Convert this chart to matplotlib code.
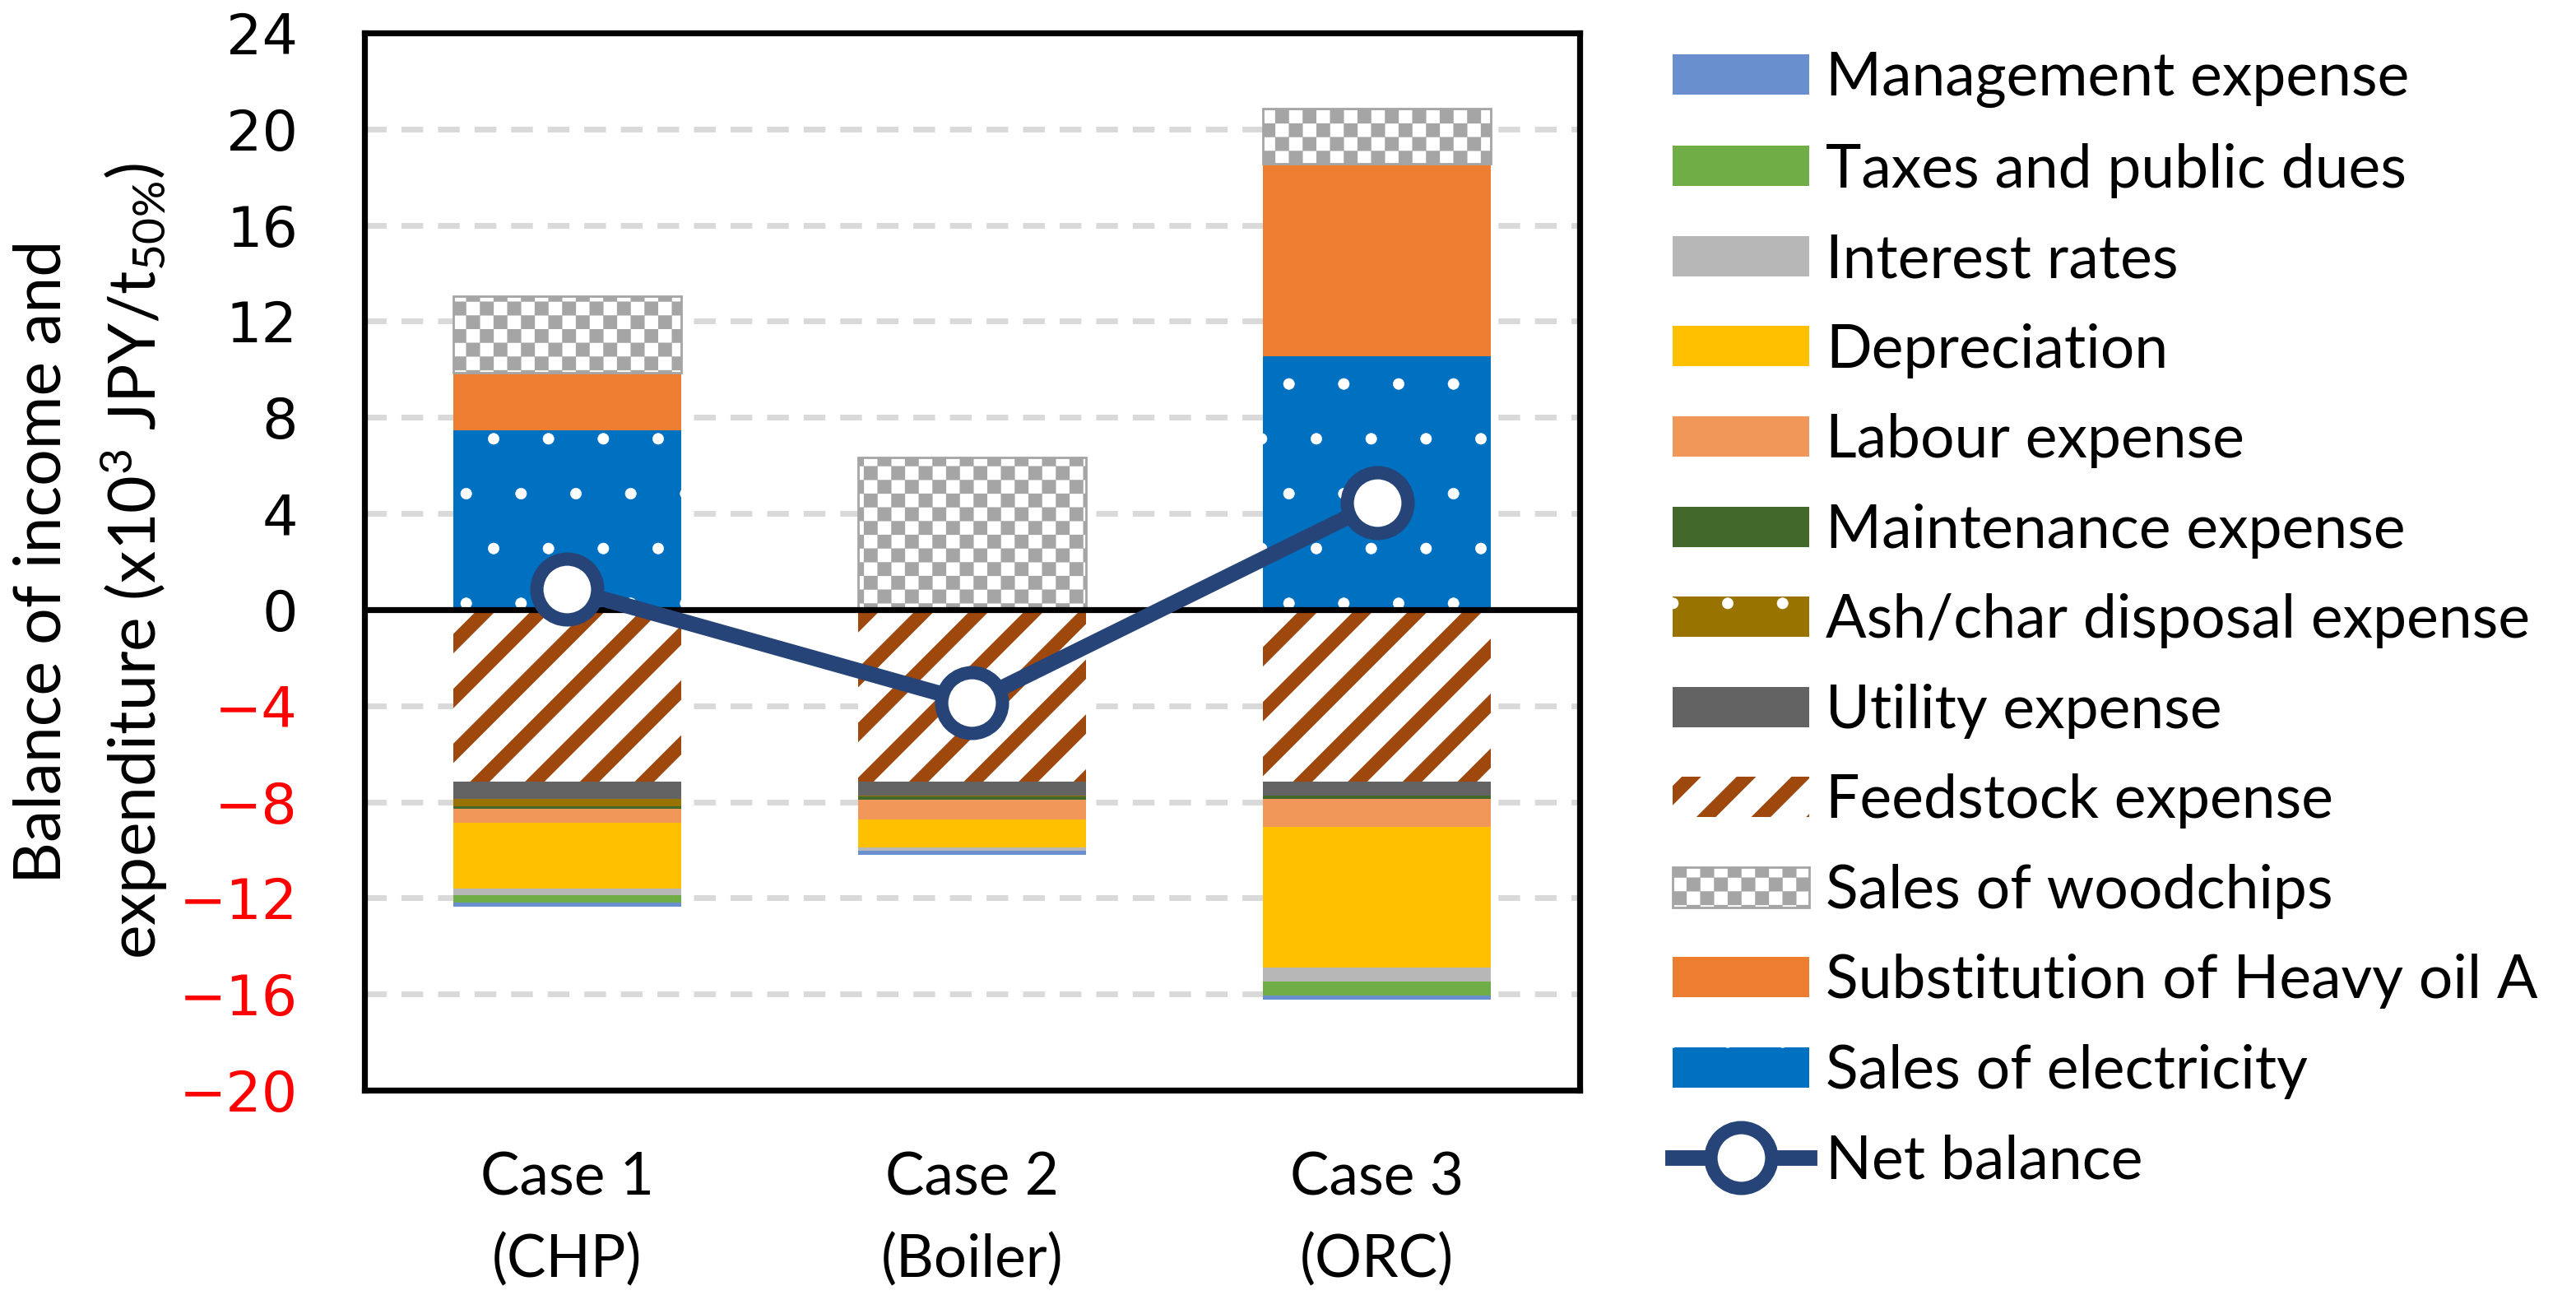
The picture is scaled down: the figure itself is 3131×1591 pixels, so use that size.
import warnings
import numpy as np
import matplotlib
matplotlib.use('Agg')
import matplotlib.pyplot as plt
from matplotlib import hatch as mhatch
from matplotlib.path import Path

warnings.filterwarnings('ignore')

##===========================================
# Data (x10^3 JPY/t50%)
##===========================================
cases = ['Case 1\n(CHP)', 'Case 2\n(Boiler)', 'Case 3\n(ORC)']

# income (positive)
electricity = [7.47, 0.0, 10.54]
heavy_oil = [2.39, 0.0, 8.00]
woodchips = [3.19, 6.34, 2.30]

# expenditure (negative, stacked downward from zero)
feedstock = [7.16, 7.16, 7.16]
utility = [0.72, 0.58, 0.58]
ash_char = [0.31, 0.02, 0.0]
maintenance = [0.10, 0.14, 0.14]
labour = [0.58, 0.85, 1.16]
depreciation = [2.74, 1.16, 5.86]
interest = [0.27, 0.14, 0.58]
taxes = [0.31, 0.0, 0.58]
management = [0.17, 0.17, 0.17]

net_balance = [0.86, -3.87, 4.45]

yticks = [-20, -16, -12, -8, -4, 0, 4, 8, 12, 16, 20, 24]


##===========================================
# checkerboard hatch ('c')
##===========================================
class CheckerHatch(mhatch.HatchPatternBase):
    filled = True

    def __init__(self, hatch, density):
        self.num_rows = hatch.count('c') * 4 * density
        self.num_vertices = (self.num_rows ** 2 // 2) * 5

    def set_vertices_and_codes(self, vertices, codes):
        s = 1.0 / self.num_rows
        k = 0
        for i in range(self.num_rows):
            for j in range(self.num_rows):
                if (i + j) % 2:
                    continue
                x0, y0 = j * s, i * s
                vertices[k:k + 5] = [(x0, y0), (x0 + s, y0), (x0 + s, y0 + s),
                                     (x0, y0 + s), (x0, y0)]
                codes[k:k + 5] = [Path.MOVETO, Path.LINETO, Path.LINETO,
                                  Path.LINETO, Path.CLOSEPOLY]
                k += 5


mhatch._hatch_types.append(CheckerHatch)

plt.rcParams['font.family'] = ['Lato', 'DejaVu Sans']
plt.rcParams['mathtext.fontset'] = 'custom'
plt.rcParams['mathtext.rm'] = 'Lato'
plt.rcParams['mathtext.it'] = 'Lato:italic'
plt.rcParams['hatch.linewidth'] = 0.1

fig = plt.figure(figsize=(3131 / 400, 1591 / 400), dpi=400)
ax = fig.add_axes([0.1415, 0.1672, 0.4717, 0.8077])

x = np.arange(len(cases))
width = 0.563

# name, values, face, edge/hatch colour, hatch, hatch linewidth, edge lw
pos_series = [
    ('Sales of electricity', electricity, '#0070C0', 'white', '.', 0.1, 0),
    ('Substitution of Heavy oil A', heavy_oil, '#ED7D31', '#ED7D31', None, 0.1, 0),
    ('Sales of woodchips', woodchips, 'white', '#A5A5A5', 'c', 0.05, 0.5),
]
neg_series = [
    ('Feedstock expense', feedstock, 'white', '#9E480E', '//', 3.0, 0),
    ('Utility expense', utility, '#636363', '#636363', None, 0.1, 0),
    ('Ash/char disposal expense', ash_char, '#997300', 'white', '.', 0.1, 0),
    ('Maintenance expense', maintenance, '#43682B', '#43682B', None, 0.1, 0),
    ('Labour expense', labour, '#F1975A', '#F1975A', None, 0.1, 0),
    ('Depreciation', depreciation, '#FFC000', '#FFC000', None, 0.1, 0),
    ('Interest rates', interest, '#B7B7B7', '#B7B7B7', None, 0.1, 0),
    ('Taxes and public dues', taxes, '#70AD47', '#70AD47', None, 0.1, 0),
    ('Management expense', management, '#6A8FCF', '#6A8FCF', None, 0.1, 0),
]

handles = {}
hatch_lw = {}
bottom = np.zeros(len(cases))
for name, vals, fc, ec, hp, hlw, elw in pos_series:
    with plt.rc_context({'hatch.linewidth': hlw}):
        b = ax.bar(x, vals, width, bottom=bottom, color=fc, edgecolor=ec,
                   hatch=hp, linewidth=elw, zorder=2)
    handles[name] = b
    hatch_lw[name] = hlw
    bottom = bottom + np.array(vals)

bottom = np.zeros(len(cases))
for name, vals, fc, ec, hp, hlw, elw in neg_series:
    v = -np.array(vals)
    with plt.rc_context({'hatch.linewidth': hlw}):
        b = ax.bar(x, v, width, bottom=bottom, color=fc, edgecolor=ec,
                   hatch=hp, linewidth=elw, zorder=2)
    handles[name] = b
    hatch_lw[name] = hlw
    bottom = bottom + v

ax.axhline(0, color='black', lw=1.3, zorder=3)

line, = ax.plot(x, net_balance, color='#264478', lw=3.4, marker='o',
                markersize=13.3, markerfacecolor='white',
                markeredgecolor='#264478', markeredgewidth=2.9, zorder=4)

ax.set_xlim(-0.5, 2.5)
ax.set_ylim(-20, 24)
ax.set_yticks(yticks)
ax.set_yticklabels([str(t) if t >= 0 else '\u2212' + str(-t) for t in yticks],
                   family='DejaVu Sans', fontsize=12.3)
for t, lab in zip(yticks, ax.get_yticklabels()):
    lab.set_color('red' if t < 0 else 'black')
ax.set_xticks(x)
ax.set_xticklabels(cases, fontsize=12.8, linespacing=1.62)
ax.tick_params(axis='both', length=0)
ax.tick_params(axis='y', pad=14.6)
ax.tick_params(axis='x', pad=13.5)

ax.grid(axis='y', color='#D9D9D9', lw=1.25, linestyle=(0, (3.8, 2.6)), zorder=0)
ax.set_axisbelow(True)
for sp in ax.spines.values():
    sp.set_linewidth(1.3)
    sp.set_color('black')

fig.text(0.0355, 0.571,
         'Balance of income and\nexpenditure (x10$^{\\mathrm{3}}$ JPY/t$_{\\mathrm{50\\%}}$)',
         rotation=90, ha='center', va='center', fontsize=14.2,
         linespacing=1.45, multialignment='center')

order = ['Management expense', 'Taxes and public dues', 'Interest rates',
         'Depreciation', 'Labour expense', 'Maintenance expense',
         'Ash/char disposal expense', 'Utility expense', 'Feedstock expense',
         'Sales of woodchips', 'Substitution of Heavy oil A',
         'Sales of electricity']
leg_handles = [handles[n] for n in order] + [line]
leg_labels = order + ['Net balance']
leg = fig.legend(leg_handles, leg_labels, loc='upper left',
                 bbox_to_anchor=(2033 / 3131, 1 - 62 / 1591), frameon=False,
                 fontsize=13.2, handlelength=2.27, handleheight=0.65,
                 handletextpad=0.27, labelspacing=0.58, borderpad=0,
                 borderaxespad=0, numpoints=1)
for name, p in zip(order, leg.get_patches()):
    p._hatch_linewidth = hatch_lw[name]

fig.savefig('out.png', dpi=400)
